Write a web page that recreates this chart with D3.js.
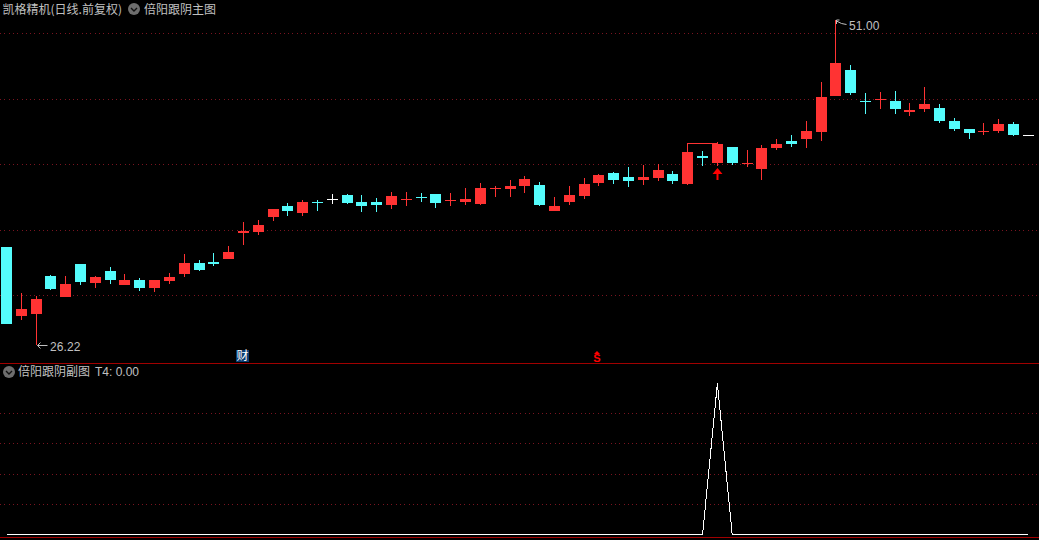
<!DOCTYPE html>
<meta charset="utf-8">
<style>
  html, body { margin: 0; background: #000; overflow: hidden; }
  text { font-family: "Noto Sans CJK SC", sans-serif; font-size: 12px; fill: #c0c0c0; }
  .num { font-family: "Liberation Sans", sans-serif; }
</style>

<!-- Load d3.js -->
<script src="https://d3js.org/d3.v7.min.js"></script>

<div id="chart"></div>

<script>
    // daily prices
    var open = [33.70,28.43,28.58,31.48,29.88,32.39,30.95,31.86,30.80,31.18,30.57,31.10,31.63,32.47,32.55,32.77,34.76,34.84,35.98,36.82,36.28,37.13,37.35,37.66,37.13,37.13,36.90,37.28,37.51,37.73,37.20,37.13,36.97,38.11,38.11,38.34,38.42,36.43,37.13,37.58,38.57,39.33,39.03,38.80,38.95,39.25,38.49,40.63,40.10,41.32,40.02,39.64,41.24,41.77,41.92,42.45,45.21,47.19,44.82,44.90,44.82,43.98,44.21,44.29,43.30,42.69,42.45,42.53,43.07,42.23];
    var close = [27.82,28.96,29.72,30.49,30.87,31.03,31.41,31.18,31.18,30.57,31.18,31.41,32.47,31.94,32.39,33.31,34.91,35.37,36.59,36.43,37.13,37.05,37.35,37.05,36.82,36.90,37.58,37.35,37.43,37.05,37.28,37.35,38.19,38.19,38.34,38.87,36.90,36.82,37.66,38.49,39.18,38.80,38.72,39.03,39.56,38.72,40.94,40.48,41.54,40.10,40.10,41.24,41.54,41.54,42.53,45.13,47.72,45.43,44.74,44.98,44.21,44.14,44.60,43.30,42.69,42.38,42.53,43.07,42.23,42.23];
    var high = [33.70,30.18,29.95,31.56,31.48,32.39,31.48,32.17,31.63,31.33,31.18,31.71,33.15,32.70,33.23,33.77,35.60,35.75,36.59,37.05,37.28,37.28,37.73,37.73,37.66,37.43,37.89,37.89,37.81,37.73,37.81,38.19,38.57,38.34,38.80,39.10,38.65,37.51,38.34,38.95,39.25,39.41,39.80,39.95,40.02,39.48,41.62,41.01,41.70,41.32,41.09,41.47,41.92,42.23,43.30,46.27,51.00,47.57,45.43,45.51,45.59,44.67,45.89,44.60,43.53,42.69,43.15,43.45,43.22,42.23];
    var low = [27.82,28.13,26.22,30.41,29.88,30.80,30.57,30.87,30.80,30.33,30.26,30.87,31.41,31.86,32.24,32.77,33.85,34.61,35.67,36.05,36.05,36.43,36.97,36.97,36.36,36.36,36.59,36.82,37.13,36.67,36.82,36.90,36.90,37.51,37.51,37.81,36.82,36.43,36.90,37.35,38.34,38.49,38.27,38.42,38.72,38.49,38.42,39.87,39.87,39.95,39.80,38.80,41.09,41.32,41.24,41.77,45.21,45.28,43.83,44.21,43.83,43.68,43.98,43.15,42.53,41.92,42.23,42.38,42.15,42.23];
    var priceTicks = [30, 35, 40, 45, 50];

    // lower panel
    var t4 = [0,0,0,0,0,0,0,0,0,0,0,0,0,0,0,0,0,0,0,0,0,0,0,0,0,0,0,0,0,0,0,0,0,0,0,0,0,0,0,0,0,0,0,0,0,0,0,0,5,0,0,0,0,0,0,0,0,0,0,0,0,0,0,0,0,0,0,0,0,0];
    var t4Ticks = [1, 2, 3, 4];

    // marks on the chart, by candle index
    var lowIndex = 2, highIndex = 56, arrowIndex = 48, bracketFrom = 46;
    var caiIndex = 16, sIndex = 40;

    var width = 1039, height = 540;

    var svg = d3.select("#chart")
      .append("svg")
        .attr("width", width)
        .attr("height", height)
        .style("display", "block");

    var x = d3.scaleLinear().domain([0, 69]).range([6.5, 1028.4]);
    var y = d3.scaleLinear().domain([26.22, 51]).range([345, 20]);
    var y2 = d3.scaleLinear().domain([0, 5]).range([534, 383]);

    var RED = "#ff3333", CYAN = "#54fcfc", WHITE = "#ffffff";
    var GRID = "#7a1420", LINE = "#a00000";

    function cx(i) { return Math.floor(x(i)) + 0.5; }
    function py(v) { return Math.round(y(v)); }

    // grid
    function grid(ticks, scale) {
      svg.append("g").selectAll("line")
        .data(ticks)
        .enter().append("line")
          .attr("x1", 0)
          .attr("x2", width)
          .attr("y1", function(d) { return Math.round(scale(d)) + 0.5; })
          .attr("y2", function(d) { return Math.round(scale(d)) + 0.5; })
          .attr("stroke", GRID)
          .attr("stroke-dasharray", "1 3.3")
          .attr("shape-rendering", "crispEdges");
    }
    grid(priceTicks, y);
    grid(t4Ticks, y2);

    // panel borders
    [363.5, 537.5].forEach(function(v) {
      svg.append("line")
        .attr("x1", 0).attr("x2", width)
        .attr("y1", v).attr("y2", v)
        .attr("stroke", LINE);
    });

    // candles
    function colour(i) {
      if (close[i] > open[i]) return RED;
      if (close[i] < open[i]) return CYAN;
      return WHITE;
    }

    var candles = svg.append("g")
      .attr("shape-rendering", "crispEdges")
      .selectAll("g")
      .data(d3.range(open.length))
      .enter().append("g");

    candles.append("line")
      .attr("x1", cx).attr("x2", cx)
      .attr("y1", function(i) { return py(high[i]); })
      .attr("y2", function(i) { return py(low[i]); })
      .attr("stroke", colour);

    candles.append("rect")
      .attr("x", function(i) { return cx(i) - 5.5; })
      .attr("width", 11)
      .attr("y", function(i) { return py(Math.max(open[i], close[i])); })
      .attr("height", function(i) {
        return Math.max(1, py(Math.min(open[i], close[i])) - py(Math.max(open[i], close[i])));
      })
      .attr("fill", colour);

    // bracket over the two red candles
    svg.append("path")
      .attr("d", "M" + cx(bracketFrom) + "," + py(high[bracketFrom]) +
                 "V" + (py(high[arrowIndex]) + 1.5) +
                 "H" + cx(arrowIndex))
      .attr("fill", "none")
      .attr("stroke", RED)
      .attr("shape-rendering", "crispEdges");

    // red up arrow
    var ax = cx(arrowIndex);
    svg.append("path")
      .attr("d", "M" + ax + ",168L" + (ax + 5) + ",174H" + (ax + 1) + "V180H" + (ax - 1) + "V174H" + (ax - 5) + "Z")
      .attr("fill", "#ff0000");

    // high / low labels
    function priceLabel(i, v, dy) {
      var px = cx(i), p = py(v);
      svg.append("path")
        .attr("d", dy < 8
          ? "M" + (px + 11) + "," + (p + 0.5) + "H" + (px + 1) + "M" + (px + 4) + "," + (p - 2.5) + "L" + (px + 1) + "," + (p + 0.5) + "L" + (px + 4) + "," + (p + 3.5)
          : "M" + (px + 11) + "," + (p + 4.5) + "L" + (px + 6) + "," + (p + 3.5) + "L" + (px + 1) + "," + (p + 1) + "M" + (px + 4) + "," + p + "H" + (px + 1) + "V" + (p + 4))
        .attr("fill", "none")
        .attr("stroke", "#c0c0c0");
      svg.append("text")
        .attr("class", "num")
        .attr("x", px + 13.5)
        .attr("y", p + dy)
        .style("letter-spacing", "0.1px")
        .text(v.toFixed(2));
    }
    priceLabel(lowIndex, low[lowIndex], 6);
    priceLabel(highIndex, high[highIndex], 10);

    // news and signal tags
    svg.append("rect")
      .attr("x", cx(caiIndex) - 7.5).attr("y", 350)
      .attr("width", 13).attr("height", 12)
      .attr("fill", "#0a3c70");
    svg.append("text")
      .attr("x", cx(caiIndex) - 7).attr("y", 360)
      .style("fill", "#ffffff")
      .text("财");

    svg.append("path")
      .attr("d", "M" + (cx(sIndex) - 1.5) + ",351l3,3h-6z")
      .attr("fill", "#ff0000");
    svg.append("text")
      .attr("class", "num")
      .attr("x", cx(sIndex) - 1.5).attr("y", 362)
      .attr("text-anchor", "middle")
      .style("fill", "#ff0000")
      .style("font-size", "11px")
      .style("font-weight", "bold")
      .text("S");

    // T4 line
    svg.append("path")
      .attr("d", d3.line()
        .x(function(d, i) { return x(i); })
        .y(function(d) { return y2(d) + 0.5; })(t4))
      .attr("fill", "none")
      .attr("stroke", "#ffffff")
      .attr("stroke-width", 1)
      .attr("shape-rendering", "crispEdges");

    // titles
    function chevron(cxv, cyv) {
      svg.append("circle").attr("cx", cxv).attr("cy", cyv).attr("r", 6).attr("fill", "#6e6e6e");
      svg.append("path")
        .attr("d", "M" + (cxv - 3) + "," + (cyv - 1) + "L" + cxv + "," + (cyv + 2) + "L" + (cxv + 3) + "," + (cyv - 1))
        .attr("fill", "none").attr("stroke", "#111").attr("stroke-width", 1.4);
    }
    svg.append("text").attr("x", 2.5).attr("y", 14).text("凯格精机(日线.前复权)");
    chevron(134, 9);
    svg.append("text").attr("x", 144).attr("y", 14).text("倍阳跟阴主图");
    chevron(9, 372);
    svg.append("text").attr("x", 18).attr("y", 376).text("倍阳跟阴副图");
    svg.append("text").attr("class", "num").attr("x", 95).attr("y", 376).text("T4: " + t4[t4.length - 1].toFixed(2));
</script>
